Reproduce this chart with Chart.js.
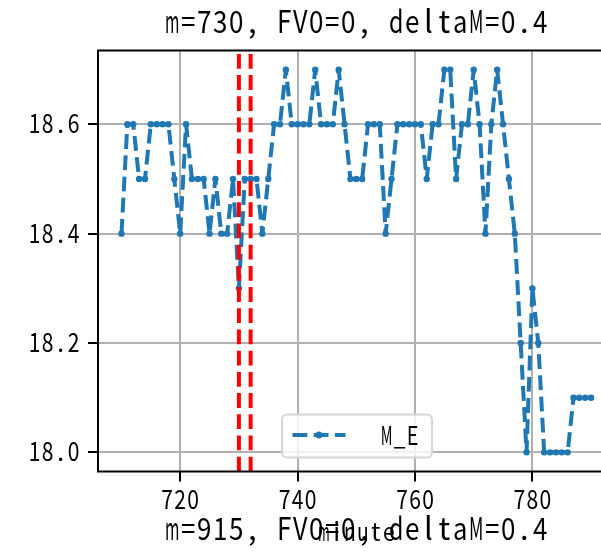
<!DOCTYPE html>
<html>
<head>
<meta charset="utf-8">
<title>M_E</title>
<script src="https://cdn.jsdelivr.net/npm/chart.js@4.4.1/dist/chart.umd.min.js"></script>
<style>
    html, body { margin: 0; padding: 0; overflow: hidden; background: #fff; }
    canvas { display: block; }
</style>
</head>
<body>
<canvas id="chart" width="620" height="551"></canvas>
<script>
// minutes and the M_E value read at each one
const minutes = [
    710, 711, 712, 713, 714, 715, 716, 717, 718, 719,
    720, 721, 722, 723, 724, 725, 726, 727, 728, 729,
    730, 731, 732, 733, 734, 735, 736, 737, 738, 739,
    740, 741, 742, 743, 744, 745, 746, 747, 748, 749,
    750, 751, 752, 753, 754, 755, 756, 757, 758, 759,
    760, 761, 762, 763, 764, 765, 766, 767, 768, 769,
    770, 771, 772, 773, 774, 775, 776, 777, 778, 779,
    780, 781, 782, 783, 784, 785, 786, 787, 788, 789,
    790
];
const meValues = [
    18.4, 18.6, 18.6, 18.5, 18.5, 18.6, 18.6, 18.6, 18.6, 18.5,
    18.4, 18.6, 18.5, 18.5, 18.5, 18.4, 18.5, 18.4, 18.4, 18.5,
    18.3, 18.5, 18.5, 18.5, 18.4, 18.5, 18.6, 18.6, 18.7, 18.6,
    18.6, 18.6, 18.6, 18.7, 18.6, 18.6, 18.6, 18.7, 18.6, 18.5,
    18.5, 18.5, 18.6, 18.6, 18.6, 18.4, 18.5, 18.6, 18.6, 18.6,
    18.6, 18.6, 18.5, 18.6, 18.6, 18.7, 18.7, 18.5, 18.6, 18.6,
    18.7, 18.6, 18.4, 18.6, 18.7, 18.6, 18.5, 18.4, 18.2, 18.0,
    18.3, 18.2, 18.0, 18.0, 18.0, 18.0, 18.0, 18.1, 18.1, 18.1,
    18.1
];
// red dashed markers
const markerMinutes = [730, 732];

const xTicks = [720, 740, 760, 780];
const xTickLabels = ['720', '740', '760', '780'];
const yTicks = [18.0, 18.2, 18.4, 18.6];
const yTickLabels = ['18.0', '18.2', '18.4', '18.6'];

const X_MIN = 706, X_MAX = 794;
const Y_MIN = 17.965, Y_MAX = 18.735;

const titleText = 'm=730, FV0=0, deltaM=0.4';
const nextTitleText = 'm=915, FV0=0, deltaM=0.4';
const xLabelText = 'minute';
const legendLabel = 'M_E';

const BLUE = '#1f77b4';
const DASH = [14.8, 6.4];
const FONT = '"Noto Sans CJK SC", "Noto Sans", sans-serif';

// draw text in fixed half-width cells, like SimHei
function drawMono(ctx, text, x, y, cell, size, align) {
    ctx.save();
    ctx.font = size + 'px ' + FONT;
    ctx.fillStyle = '#000';
    ctx.textAlign = 'center';
    ctx.textBaseline = 'alphabetic';
    const total = text.length * cell;
    let start = x;
    if (align === 'right') start = x - total;
    else if (align === 'center') start = x - total / 2;
    for (let i = 0; i < text.length; i++) {
        const ch = text[i];
        const w = ctx.measureText(ch).width || 1;
        const sx = Math.min(1, cell * 0.9 / w);
        ctx.save();
        ctx.translate(start + cell * (i + 0.5), y);
        ctx.scale(sx, 1);
        ctx.fillText(ch, 0, 0);
        ctx.restore();
    }
    ctx.restore();
}

const decorPlugin = {
    id: 'decor',
    afterDraw(chart) {
        const { ctx, chartArea: a, scales: { x, y } } = chart;

        // spines
        ctx.save();
        ctx.strokeStyle = '#000';
        ctx.lineWidth = 2;
        ctx.strokeRect(a.left, a.top, a.right - a.left, a.bottom - a.top);
        ctx.restore();

        // tick labels
        y.ticks.forEach((t, i) => {
            drawMono(ctx, yTickLabels[i], a.left - 18, y.getPixelForValue(t.value) + 9, 13, 26, 'right');
        });
        x.ticks.forEach((t, i) => {
            drawMono(ctx, xTickLabels[i], x.getPixelForValue(t.value), a.bottom + 37.5, 13, 26, 'center');
        });

        // legend
        const lx = a.left + 184, ly = a.top + 364;
        const lw = 150, lh = 43;
        ctx.save();
        ctx.beginPath();
        ctx.roundRect(lx, ly, lw, lh, 5);
        ctx.fillStyle = 'rgba(255,255,255,0.8)';
        ctx.fill();
        ctx.strokeStyle = '#d6d6d6';
        ctx.lineWidth = 2;
        ctx.stroke();
        ctx.beginPath();
        ctx.setLineDash(DASH);
        ctx.strokeStyle = BLUE;
        ctx.lineWidth = 4;
        ctx.moveTo(lx + 10.5, ly + 20.5);
        ctx.lineTo(lx + 63.5, ly + 20.5);
        ctx.stroke();
        ctx.setLineDash([]);
        ctx.beginPath();
        ctx.fillStyle = BLUE;
        ctx.arc(lx + 37, ly + 20.5, 3.5, 0, Math.PI * 2);
        ctx.fill();
        ctx.restore();
        drawMono(ctx, legendLabel, lx + 98, ly + 30, 13, 26, 'left');

        // titles and axis label
        const cx = (a.left + a.right) / 2;
        drawMono(ctx, titleText, cx, 33, 16, 31, 'center');
        drawMono(ctx, xLabelText, cx, 541, 13, 25, 'center');
        drawMono(ctx, nextTitleText, cx, 540, 16, 31, 'center');
    }
};

const markerSets = markerMinutes.map(m => ({
    data: [{ x: m, y: Y_MIN }, { x: m, y: Y_MAX }],
    borderColor: '#ff0000',
    borderWidth: 4,
    borderDash: DASH,
    pointRadius: 0,
    order: 0
}));

const ctx = document.getElementById('chart').getContext('2d');
new Chart(ctx, {
    type: 'line',
    data: {
        datasets: [
            ...markerSets,
            {
                label: legendLabel,
                data: minutes.map((m, i) => ({ x: m, y: meValues[i] })),
                borderColor: BLUE,
                backgroundColor: BLUE,
                borderWidth: 4,
                borderDash: DASH,
                borderJoinStyle: 'round',
                pointRadius: 3.2,
                pointBorderWidth: 0,
                pointBackgroundColor: BLUE,
                tension: 0,
                fill: false,
                order: 1
            }
        ]
    },
    options: {
        responsive: false,
        animation: false,
        devicePixelRatio: 1,
        layout: {
            padding: { left: 88, top: 50.5, right: 5.4, bottom: 69.5 }
        },
        plugins: {
            legend: { display: false },
            tooltip: { enabled: false },
            title: { display: false }
        },
        scales: {
            x: {
                type: 'linear',
                min: X_MIN,
                max: X_MAX,
                afterBuildTicks: scale => { scale.ticks = xTicks.map(v => ({ value: v })); },
                ticks: { display: false },
                grid: { color: '#b0b0b0', lineWidth: 2, tickColor: '#000', tickLength: 10, tickWidth: 2 },
                border: { display: false }
            },
            y: {
                type: 'linear',
                min: Y_MIN,
                max: Y_MAX,
                afterBuildTicks: scale => { scale.ticks = yTicks.map(v => ({ value: v })); },
                ticks: { display: false },
                grid: { color: '#b0b0b0', lineWidth: 2, tickColor: '#000', tickLength: 10, tickWidth: 2 },
                border: { display: false }
            }
        }
    },
    plugins: [decorPlugin]
});
</script>
</body>
</html>
